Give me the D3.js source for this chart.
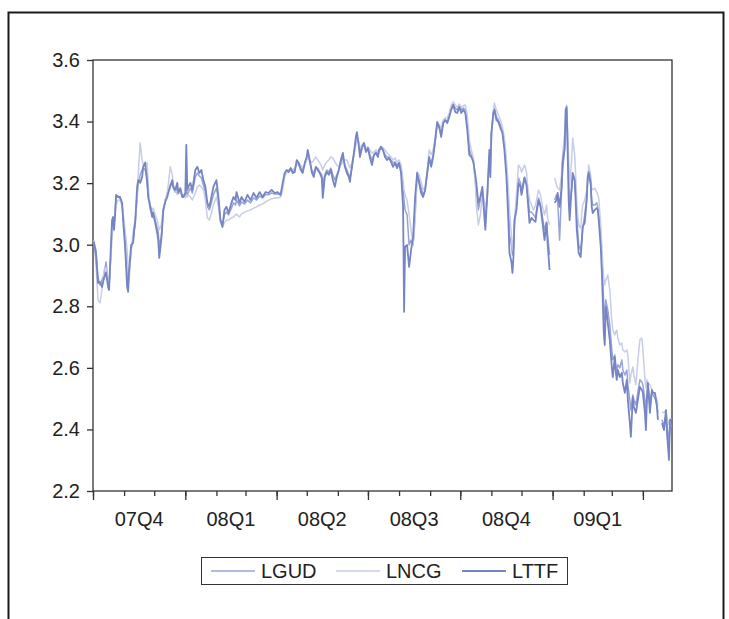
<html>
<head>
<script src="https://cdn.jsdelivr.net/npm/d3@7"></script>
<style>
    body {
        margin: 0;
        background: white;
        font-family: "Liberation Sans", Arial, Helvetica, sans-serif;
    }
    svg {
        display: block;
    }
</style>
</head>
<body>
<svg id="Chart"></svg>
<script>
    // Data
    // observation days, counted from 1 Oct 2007 (null values leave a gap)
    const startDate = new Date(2007, 9, 1);
    const lastDay = 577;

    const obsDay = [
        1, 3, 5, 7, 9, 11, 13, 15, 16, 18, 19, 20, 21, 22, 23, 25, 27, 29, 30, 32,
        34, 35, 36, 38, 40, 41, 42, 44, 45, 47, 49, 50, 52, 53, 54, 55, 57, 59, 60, 62,
        64, 65, 66, 68, 69, 70, 72, 74, 75, 77, 79, 80, 82, 84, 85, 87, 89, 90, 92, 93, 94,
        95, 97, 99, 102, 104, 106, 108, 110, 112, 114, 116, 118, 120, 123, 125, 127, 129, 131, 133, 135,
        138, 140, 142, 143, 146, 148, 151, 154, 157, 160, 163, 166, 169, 172, 175, 178, 181, 184, 187, 189, 191,
        193, 195, 197, 199, 201, 203, 205, 207, 209, 211, 213, 214, 216, 218, 220, 222, 224, 226, 228, 229,
        231, 233, 235, 237, 239, 241, 243, 245, 247, 249, 251, 253, 255, 256, 258, 260, 262, 263, 265, 266,
        268, 270, 272, 274, 276, 278, 280, 282, 284,
        285, 287, 289, 291, 293, 295, 297, 299, 301, 303, 305, 307, 309, 310, 311, 313, 315, 317, 319, 321,
        323, 325, 327, 329, 331, 333, 335, 337, 339, 341, 343, 345, 347, 349, 351, 353, 355, 357, 359, 361,
        363, 365, 367, 369, 371, 373, 375,
        377, 379, 381, 382, 384, 386, 388, 390, 391, 393, 395, 396, 397, 399, 400, 402, 404, 406, 408, 410,
        412, 414, 415, 417, 418, 419, 420, 422, 424, 426, 427, 428, 430, 432, 433, 435, 437, 439, 441, 442,
        444, 446, 448, 450, 452, 453, 455, 457,
        460, 462, 463, 465, 467, 468, 470, 471, 472, 473, 474, 475, 477, 478, 480, 481, 482, 483, 484, 486,
        487, 488, 490, 492, 493, 494, 496, 497, 498, 500, 502, 503, 504, 506, 507, 508, 509, 510, 511, 512,
        513, 515, 517, 518, 520, 521, 522, 523, 525, 527, 528, 530, 532, 533, 535, 536, 538, 539, 541, 543,
        545, 547, 548, 550, 551, 552, 553, 555, 557, 558, 560, 562, 563, 565, 567, 569, 571, 572, 574, 575, 576
    ];

    const lgud = [
        3.002, 2.983, 2.892, 2.869, 2.886, 2.902, 2.944, 2.879, 2.860, 2.983, 3.054, 3.074, 3.064, 3.106, 3.152, 3.158, 3.149, 3.129, 3.097, 3.015,
        2.902, 2.869, 2.902, 2.983, 3.015, 3.041, 3.064, 3.162, 3.194, 3.227, 3.243, 3.249, 3.243, 3.227, 3.194, 3.162, 3.129, 3.103, 3.106, 3.080,
        3.054, 3.041, 2.999, 3.022, 3.064, 3.106, 3.145, 3.162, 3.178, 3.194, 3.204, 3.184, 3.171, 3.184, 3.171, 3.171, 3.162, 3.158, 3.158, 3.178, 3.162,
        3.171, 3.184, 3.168, 3.220, 3.233, 3.223, 3.217, 3.194, 3.171, 3.123, 3.113, 3.136, 3.162, 3.184, 3.145, 3.080, 3.064, 3.097, 3.106, 3.097,
        3.119, 3.136, 3.129, 3.145, 3.126, 3.139, 3.132, 3.145, 3.136, 3.152, 3.145, 3.158, 3.152, 3.162, 3.162, 3.168, 3.165, 3.165, 3.162, 3.194, 3.227,
        3.236, 3.243, 3.243, 3.236, 3.243, 3.266, 3.259, 3.249, 3.243, 3.259, 3.282, 3.298, 3.269, 3.243, 3.233, 3.249, 3.249, 3.236, 3.227, 3.194,
        3.227, 3.243, 3.236, 3.249, 3.227, 3.210, 3.227, 3.243, 3.266, 3.282, 3.259, 3.243, 3.227, 3.217, 3.249, 3.292, 3.340, 3.357, 3.324, 3.301,
        3.318, 3.324, 3.308, 3.314, 3.292, 3.275, 3.292, 3.301, 3.292,
        3.301, 3.314, 3.308, 3.292, 3.285, 3.285, 3.275, 3.266, 3.269, 3.259, 3.266, 3.243, 3.178, 3.145, 3.113, 3.097, 2.999, 3.015, 2.999, 3.097,
        3.227, 3.210, 3.184, 3.162, 3.178, 3.227, 3.275, 3.266, 3.292, 3.334, 3.389, 3.379, 3.366, 3.395, 3.405, 3.399, 3.421, 3.444, 3.457, 3.444,
        3.438, 3.451, 3.438, 3.444, 3.438, 3.389, 3.308,
        3.292, 3.275, 3.210, 3.178, 3.113, 3.145, 3.178, 3.113, 3.080, 3.162, 3.292, 3.259, 3.357, 3.431, 3.444, 3.415, 3.405, 3.389, 3.373, 3.324,
        3.249, 3.129, 3.032, 2.999, 2.967, 2.983, 3.064, 3.129, 3.217, 3.201, 3.178, 3.191, 3.220, 3.201, 3.171, 3.106, 3.106, 3.097, 3.087, 3.113,
        3.152, 3.129, 3.087, 3.048, 3.074, 3.032, 2.967, null,
        3.145, 3.162, 3.145, 3.015, 3.178, 3.243, 3.308, 3.389, 3.438, 3.340, 3.210, 3.129, 3.178, 3.217, 3.210, 3.162, 3.097, 3.048, 2.999, 2.983,
        3.015, 3.054, 3.097, 3.152, 3.210, 3.227, 3.194, 3.145, 3.129, 3.129, 3.136, 3.123, 3.097, 3.032, 2.967, 2.886, 2.804, 2.756, 2.821, 2.804,
        2.788, 2.739, 2.658, 2.626, 2.642, 2.610, 2.593, 2.610, 2.600, 2.626, 2.593, 2.577, 2.593, 2.545, 2.496, 2.463, 2.512, 2.496, 2.480, 2.522,
        2.561, 2.554, 2.545, 2.496, 2.463, 2.512, 2.545, 2.496, 2.522, 2.512, 2.502, 2.480, 2.454, null, 2.431, 2.415, 2.447, 2.415, 2.366, 2.398, 2.415
    ];

    const lncg = [
        3.015, 2.934, 2.821, 2.811, 2.853, 2.918, 2.925, 2.886, 2.869, 2.967, 3.032, 3.054, 3.064, 3.097, 3.129, 3.145, 3.145, 3.123, 3.106, 3.048,
        2.983, 2.918, 2.886, 2.983, 3.041, 3.061, 3.080, 3.145, 3.227, 3.331, 3.275, 3.259, 3.269, 3.259, 3.266, 3.194, 3.113, 3.113, 3.119, 3.097,
        3.080, 3.064, 3.048, 3.064, 3.087, 3.113, 3.145, 3.171, 3.194, 3.253, 3.227, 3.194, 3.178, 3.162, 3.178, 3.168, 3.155, 3.162, 3.152, 3.162, 3.155,
        3.162, 3.155, 3.145, 3.168, 3.188, 3.194, 3.188, 3.178, 3.145, 3.087, 3.080, 3.103, 3.129, 3.155, 3.123, 3.074, 3.058, 3.071, 3.080, 3.080,
        3.087, 3.090, 3.097, 3.100, 3.090, 3.100, 3.106, 3.110, 3.113, 3.119, 3.123, 3.129, 3.132, 3.139, 3.145, 3.149, 3.152, 3.152, 3.155, 3.178, 3.220,
        3.236, 3.243, 3.249, 3.243, 3.249, 3.259, 3.266, 3.259, 3.249, 3.259, 3.275, 3.292, 3.275, 3.266, 3.275, 3.285, 3.275, 3.266, 3.253, 3.243,
        3.259, 3.269, 3.275, 3.285, 3.282, 3.269, 3.259, 3.253, 3.259, 3.269, 3.275, 3.275, 3.259, 3.249, 3.266, 3.292, 3.324, 3.347, 3.334, 3.314,
        3.324, 3.331, 3.314, 3.318, 3.308, 3.298, 3.301, 3.308, 3.301,
        3.308, 3.318, 3.314, 3.308, 3.298, 3.292, 3.285, 3.275, 3.282, 3.269, 3.275, 3.259, 3.210, 3.178, 3.162, 3.145, 3.097, 3.048, 2.999, 3.080,
        3.236, 3.227, 3.204, 3.178, 3.188, 3.236, 3.308, 3.292, 3.308, 3.347, 3.389, 3.389, 3.379, 3.405, 3.412, 3.412, 3.428, 3.454, 3.464, 3.454,
        3.447, 3.457, 3.447, 3.451, 3.454, 3.421, 3.340,
        3.308, 3.282, 3.194, 3.129, 3.064, 3.097, 3.162, 3.145, 3.119, 3.152, 3.275, 3.308, 3.340, 3.438, 3.460, 3.438, 3.421, 3.405, 3.383, 3.347,
        3.275, 3.178, 3.113, 3.032, 2.983, 3.015, 3.074, 3.162, 3.259, 3.249, 3.236, 3.243, 3.259, 3.236, 3.194, 3.145, 3.129, 3.113, 3.129, 3.145,
        3.178, 3.162, 3.123, 3.097, 3.129, 3.087, 3.064, null,
        3.217, 3.194, 3.184, 3.178, 3.227, 3.292, 3.357, 3.421, 3.454, 3.373, 3.275, 3.194, 3.275, 3.347, 3.292, 3.227, 3.145, 3.097, 3.064, 3.054,
        3.097, 3.129, 3.145, 3.178, 3.210, 3.259, 3.227, 3.184, 3.178, 3.184, 3.171, 3.162, 3.152, 3.064, 2.999, 2.934, 2.892, 2.869, 2.886, 2.892,
        2.902, 2.853, 2.756, 2.723, 2.707, 2.717, 2.723, 2.697, 2.674, 2.681, 2.658, 2.652, 2.658, 2.642, 2.551, 2.577, 2.603, 2.577, 2.545, 2.626,
        2.691, 2.697, 2.658, 2.567, 2.535, 2.561, 2.551, 2.545, 2.528, 2.522, 2.512, 2.496, 2.480, null, 2.457, 2.454, 2.463, 2.437, 2.415, 2.431, 2.437
    ];

    const lttf = [
        3.009, 2.967, 2.876, 2.879, 2.863, 2.892, 2.910, 2.863, 2.853, 3.006, 3.080, 3.090, 3.048, 3.097, 3.162, 3.155, 3.155, 3.136, 3.080, 2.993,
        2.863, 2.847, 2.918, 2.999, 3.006, 3.048, 3.071, 3.188, 3.210, 3.201, 3.220, 3.253, 3.266, 3.233, 3.210, 3.155, 3.123, 3.090, 3.103, 3.071,
        3.038, 3.015, 2.957, 3.015, 3.058, 3.113, 3.139, 3.155, 3.168, 3.188, 3.210, 3.188, 3.178, 3.201, 3.168, 3.184, 3.155, 3.155, 3.168, 3.324, 3.178,
        3.188, 3.201, 3.178, 3.243, 3.253, 3.233, 3.243, 3.210, 3.188, 3.136, 3.123, 3.155, 3.188, 3.210, 3.155, 3.080, 3.058, 3.113, 3.123, 3.103,
        3.136, 3.155, 3.145, 3.171, 3.136, 3.155, 3.139, 3.162, 3.145, 3.168, 3.152, 3.171, 3.155, 3.171, 3.168, 3.178, 3.168, 3.171, 3.162, 3.201, 3.233,
        3.243, 3.236, 3.249, 3.233, 3.236, 3.275, 3.266, 3.243, 3.233, 3.266, 3.285, 3.308, 3.275, 3.236, 3.220, 3.253, 3.243, 3.233, 3.217, 3.152,
        3.220, 3.236, 3.227, 3.243, 3.210, 3.188, 3.220, 3.243, 3.275, 3.298, 3.253, 3.233, 3.220, 3.204, 3.253, 3.298, 3.350, 3.366, 3.318, 3.285,
        3.314, 3.331, 3.301, 3.314, 3.282, 3.259, 3.292, 3.298, 3.285,
        3.308, 3.318, 3.308, 3.285, 3.275, 3.282, 3.269, 3.253, 3.266, 3.249, 3.266, 3.233, 3.123, 2.782, 2.993, 2.999, 2.928, 2.983, 3.025, 3.155,
        3.233, 3.201, 3.168, 3.155, 3.178, 3.233, 3.285, 3.253, 3.285, 3.340, 3.399, 3.383, 3.350, 3.395, 3.405, 3.395, 3.415, 3.438, 3.454, 3.431,
        3.428, 3.447, 3.428, 3.438, 3.428, 3.373, 3.292,
        3.285, 3.269, 3.227, 3.201, 3.136, 3.155, 3.188, 3.090, 3.048, 3.168, 3.308, 3.220, 3.363, 3.428, 3.438, 3.405, 3.399, 3.379, 3.363, 3.308,
        3.220, 3.071, 2.973, 2.944, 2.908, 2.960, 3.080, 3.113, 3.201, 3.188, 3.162, 3.178, 3.217, 3.194, 3.155, 3.071, 3.087, 3.080, 3.074, 3.103,
        3.145, 3.123, 3.071, 3.015, 3.071, 3.006, 2.918, null,
        3.136, 3.145, 3.168, 3.123, 3.188, 3.269, 3.314, 3.438, 3.447, 3.308, 3.145, 3.080, 3.188, 3.233, 3.210, 3.145, 3.054, 3.015, 2.973, 2.960,
        3.006, 3.058, 3.071, 3.145, 3.220, 3.236, 3.201, 3.123, 3.103, 3.113, 3.119, 3.113, 3.080, 2.993, 2.918, 2.821, 2.713, 2.674, 2.798, 2.778,
        2.746, 2.691, 2.603, 2.570, 2.635, 2.584, 2.561, 2.593, 2.570, 2.584, 2.551, 2.519, 2.561, 2.496, 2.421, 2.376, 2.506, 2.473, 2.454, 2.496,
        2.538, 2.528, 2.519, 2.454, 2.398, 2.496, 2.551, 2.454, 2.528, 2.519, 2.519, 2.473, 2.431, null, 2.421, 2.398, 2.463, 2.389, 2.301, 2.431, 2.431
    ];

    const seriesNames = ["LGUD", "LNCG", "LTTF"];
    const seriesColors = ["#97a3d5", "#c7cde9", "#7584c3"];
    const yTicks = [2.2, 2.4, 2.6, 2.8, 3.0, 3.2, 3.4, 3.6];
    const quarterLabels = ["07Q4", "08Q1", "08Q2", "08Q3", "08Q4", "09Q1"];

    const fontSize = "20px";

    // build one row list per series
    function getSeries() {
        let values = [lgud, lncg, lttf];
        return seriesNames.map((name, i) => {
            let points = obsDay.map((d, j) => ({
                date: d3.timeDay.offset(startDate, d),
                value: values[i][j]
            }));
            return { name, color: seriesColors[i], points };
        });
    }

    // config
    function getConfig() {
        let width = 729;
        let height = 619;
        let margin = { top: 60, left: 93, right: 57, bottom: 128 };
        let bodyWidth = width - margin.left - margin.right;
        let bodyHeight = height - margin.top - margin.bottom;
        let container = d3.select("#Chart")
            .attr("width", width)
            .attr("height", height);
        return { width, height, margin, bodyWidth, bodyHeight, container };
    }

    // scales
    function getScales(config) {
        let { margin, bodyWidth, bodyHeight } = config;
        let xScale = d3.scaleTime()
            .domain([startDate, d3.timeDay.offset(startDate, lastDay)])
            .range([margin.left, margin.left + bodyWidth]);
        let yScale = d3.scaleLinear()
            .domain([yTicks[0], yTicks[yTicks.length - 1]])
            .range([margin.top + bodyHeight, margin.top]);
        return { xScale, yScale };
    }

    function drawFrame(config) {
        let { container, margin, bodyWidth, bodyHeight } = config;
        // outer picture border
        container.append("rect")
            .attr("x", 8.5).attr("y", 12.5)
            .attr("width", 715).attr("height", 640)
            .attr("fill", "none")
            .attr("stroke", "#1a1a1a")
            .attr("stroke-width", 2);
        // plot box
        container.append("rect")
            .attr("x", margin.left).attr("y", margin.top)
            .attr("width", bodyWidth).attr("height", bodyHeight)
            .attr("fill", "none")
            .attr("stroke", "#333")
            .attr("stroke-width", 1.3);
    }

    function drawLines(series, scales) {
        let { xScale, yScale } = scales;
        let line = d3.line()
            .defined(d => d.value != null)
            .x(d => xScale(d.date))
            .y(d => yScale(d.value));

        d3.select("#Chart").append("g")
            .selectAll("path")
            .data(series)
            .enter()
            .append("path")
            .attr("d", d => line(d.points))
            .attr("fill", "none")
            .attr("stroke", d => d.color)
            .attr("stroke-width", d => d.name == "LTTF" ? 1.8 : 1.5)
            .attr("stroke-linejoin", "round");
    }

    function drawAxes(scales, config) {
        let { xScale, yScale } = scales;
        let { container, margin, bodyHeight } = config;
        let end = d3.timeDay.offset(startDate, lastDay);
        let bottom = margin.top + bodyHeight;

        let axisY = d3.axisLeft(yScale)
            .tickValues(yTicks)
            .tickSize(6)
            .tickPadding(7)
            .tickFormat(d3.format(".1f"));
        let gy = container.append("g")
            .attr("transform", `translate(${margin.left}, 0)`)
            .call(axisY);

        // monthly minor ticks and quarterly major ticks
        let months = d3.timeMonth.range(startDate, end);
        let quarters = d3.timeMonth.every(3).range(startDate, end);
        let gm = container.append("g")
            .attr("transform", `translate(0, ${bottom})`)
            .call(d3.axisBottom(xScale).tickValues(months).tickSize(5).tickFormat(""));
        let gq = container.append("g")
            .attr("transform", `translate(0, ${bottom})`)
            .call(d3.axisBottom(xScale).tickValues(quarters).tickSize(9).tickFormat(""));

        [gy, gm, gq].forEach(g => {
            g.select(".domain").remove();
            g.selectAll("line").attr("stroke", "#333").attr("stroke-width", 1.3);
        });
        gy.selectAll("text")
            .attr("fill", "#222")
            .style("font-size", fontSize)
            .style("font-family", "'Liberation Sans', Arial, sans-serif");

        // quarter labels centred inside each quarter
        container.append("g")
            .selectAll("text")
            .data(quarterLabels)
            .enter()
            .append("text")
            .attr("x", (d, i) => {
                let a = quarters[i];
                let b = d3.timeMonth.offset(a, 3);
                return (xScale(a) + xScale(b)) / 2;
            })
            .attr("y", bottom + 35)
            .attr("text-anchor", "middle")
            .attr("fill", "#222")
            .style("font-size", fontSize)
            .text(d => d);
    }

    function drawLegend(series, config) {
        let { container } = config;
        let legend = container.append("g");
        legend.append("rect")
            .attr("x", 201.5).attr("y", 557.5)
            .attr("width", 366).attr("height", 27)
            .attr("fill", "white")
            .attr("stroke", "#333")
            .attr("stroke-width", 1);

        let startX = [211, 336, 462];
        let items = legend.selectAll(".item")
            .data(series)
            .enter()
            .append("g")
            .attr("transform", (d, i) => `translate(${startX[i]}, 571)`);
        items.append("line")
            .attr("x1", 0).attr("x2", 44)
            .attr("stroke", d => d.color)
            .attr("stroke-width", d => d.name == "LTTF" ? 1.8 : 1.5);
        items.append("text")
            .attr("x", 50)
            .attr("y", 7)
            .attr("fill", "#222")
            .style("font-size", fontSize)
            .text(d => d.name);
    }

    function showChart() {
        let series = getSeries();
        let config = getConfig();
        let scales = getScales(config);
        drawFrame(config);
        drawLines(series, scales);
        drawAxes(scales, config);
        drawLegend(series, config);
    }

    showChart();
</script>
</body>
</html>
